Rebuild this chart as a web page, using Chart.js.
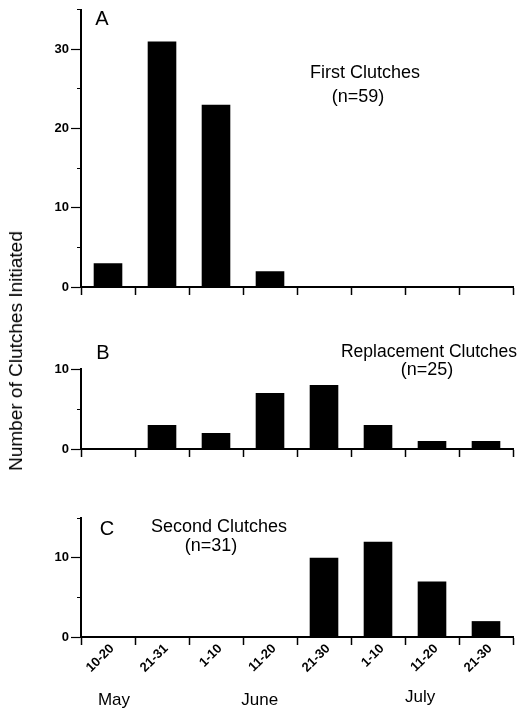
<!DOCTYPE html>
<html>
<head>
<meta charset="utf-8">
<script src="https://cdn.jsdelivr.net/npm/chart.js@4/dist/chart.umd.min.js"></script>
<style>
  body { margin: 0; background: #fff; }
  #wrap { position: relative; width: 520px; height: 709px; overflow: hidden; }
  canvas { position: absolute; left: 0; }
  #ytitle {
    position: absolute; left: 16px; top: 351px;
    transform: translate(-50%, -50%) rotate(-90deg);
    font: 19px "Liberation Sans", Arial, sans-serif; white-space: nowrap; color: #000;
  }
</style>
</head>
<body>
<div id="wrap">
  <canvas id="chartA" width="520" height="300" style="top:0px"></canvas>
  <canvas id="chartB" width="520" height="120" style="top:340px"></canvas>
  <canvas id="chartC" width="520" height="209" style="top:500px"></canvas>
  <div id="ytitle">Number of Clutches Initiated</div>
</div>
<script>
// ten-day periods, May 10 - July 30
const periods = ['10-20', '21-31', '1-10', '11-20', '21-30', '1-10', '11-20', '21-30'];
const months = ['May', 'June', 'July'];

const firstClutches = [3, 31, 23, 2, 0, 0, 0, 0];
const replacementClutches = [0, 3, 2, 7, 8, 3, 1, 1];
const secondClutches = [0, 0, 0, 0, 10, 12, 7, 2];

const FONT = '"Liberation Sans", Arial, sans-serif';

// draws panel letters, captions and month names
const notesPlugin = {
    id: 'notes',
    afterDraw(chart, args, opts) {
        const { ctx, chartArea } = chart;
        ctx.save();
        ctx.fillStyle = '#000';
        ctx.textAlign = 'center';
        ctx.textBaseline = 'middle';
        for (const n of opts.items || []) {
            ctx.font = n.font;
            ctx.fillText(n.text, chartArea.left + n.dx, chartArea.top + n.dy);
        }
        if (opts.months) {
            const x = chart.scales.x;
            ctx.font = '17px ' + FONT;
            opts.months.forEach((m, i) => {
                ctx.fillText(m, x.getPixelForValue(opts.monthAt[i]), chartArea.bottom + opts.monthDy[i]);
            });
        }
        ctx.restore();
    }
};

function makePanel(id, values, max, padTop, xHeight, showLabels, notes) {
    return new Chart(document.getElementById(id), {
        type: 'bar',
        data: {
            labels: periods,
            datasets: [{
                data: values,
                backgroundColor: '#000',
                borderWidth: 0,
                barPercentage: 1,
                categoryPercentage: 0.53
            }]
        },
        plugins: [notesPlugin],
        options: {
            responsive: false,
            animation: false,
            devicePixelRatio: 1,
            layout: { padding: { top: padTop, right: 7, left: 0, bottom: 0 }, autoPadding: false },
            plugins: {
                legend: { display: false },
                tooltip: { enabled: false },
                notes: notes
            },
            scales: {
                x: {
                    offset: true,
                    afterFit: s => { s.height = xHeight; },
                    border: { display: true, color: '#000', width: 2 },
                    grid: {
                        offset: true,
                        drawOnChartArea: false,
                        drawTicks: true,
                        tickLength: 8,
                        tickWidth: 1.5,
                        tickColor: '#000'
                    },
                    ticks: {
                        display: showLabels,
                        autoSkip: false,
                        minRotation: 45,
                        maxRotation: 45,
                        padding: -4,
                        labelOffset: 4,
                        color: '#000',
                        font: { family: FONT, size: 13, weight: 'bold' }
                    }
                },
                y: {
                    min: 0,
                    max: max,
                    afterFit: s => { s.width = 81; },
                    border: { display: true, color: '#000', width: 2 },
                    grid: {
                        drawOnChartArea: false,
                        drawTicks: true,
                        tickLength: 10,
                        tickWidth: 1.2,
                        tickColor: '#000',
                        tickBorderDash: c => (c.tick && c.tick.value % 10 !== 0) ? [0, 6, 5, 0] : []
                    },
                    ticks: {
                        stepSize: 5,
                        padding: 2,
                        color: '#000',
                        font: { family: FONT, size: 13, weight: 'bold' },
                        callback: v => (v % 10 === 0 ? v : '')
                    }
                }
            }
        }
    });
}

makePanel('chartA', firstClutches, 35, 8, 13, false, {
    items: [
        { text: 'A', dx: 21, dy: 10, font: '20px ' + FONT },
        { text: 'First Clutches', dx: 284, dy: 63, font: '18px ' + FONT },
        { text: '(n=59)', dx: 277, dy: 87, font: '18px ' + FONT }
    ]
});

makePanel('chartB', replacementClutches, 10, 29, 11, false, {
    items: [
        { text: 'B', dx: 22, dy: -16, font: '20px ' + FONT },
        { text: 'Replacement Clutches', dx: 348, dy: -17, font: '17.5px ' + FONT },
        { text: '(n=25)', dx: 346, dy: 1, font: '18px ' + FONT }
    ]
});

makePanel('chartC', secondClutches, 15, 18, 72, true, {
    items: [
        { text: 'C', dx: 26, dy: 11, font: '20px ' + FONT },
        { text: 'Second Clutches', dx: 138, dy: 9, font: '18px ' + FONT },
        { text: '(n=31)', dx: 130, dy: 28, font: '18px ' + FONT }
    ],
    months: months,
    monthAt: [0.11, 2.81, 5.78],
    monthDy: [63, 63, 60]
});
</script>
</body>
</html>
